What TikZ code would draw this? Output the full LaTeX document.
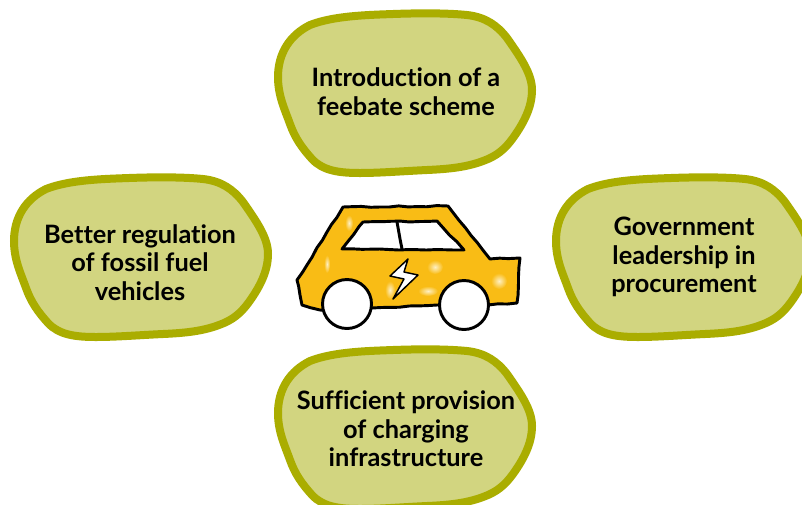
\documentclass[tikz,border=0pt]{standalone}
\usepackage{fontspec}
\usetikzlibrary{decorations.pathmorphing}
\setmainfont{Lato}[Ligatures=NoCommon]
\definecolor{blobfill}{HTML}{D2D580}
\definecolor{blobline}{HTML}{AAAD00}
\definecolor{caryellow}{HTML}{F9BC15}
\definecolor{carglow}{HTML}{FEF0C4}
\tikzset{every picture/.style={line width=0.75pt}}
\tikzset{
  blobline/.style={draw=blobline,fill=blobfill,line width=6pt},
  blobtext/.style={inner sep=0.75pt,align=center,font=\fontsize{19}{21.5}\selectfont\bfseries,text=black},
  carline/.style={draw=black,line width=2.2pt,line join=round,decorate,decoration={random steps,segment length=7pt,amplitude=0.45pt}},
  carspot/.style={inner color=carglow,outer color=caryellow},
  blob/.pic={
    \path[blobline] (-127,-11) .. controls (-127,-35) and (-115,-53) .. (-95,-63) .. controls (-72,-72) and (-40,-73) .. (-12,-74) .. controls (15,-75) and (42,-75) .. (62,-73) .. controls (80,-71) and (92,-63) .. (102,-50) .. controls (116,-30) and (127,-14) .. (127,2) .. controls (127,20) and (118,36) .. (108,50) .. controls (100,61) and (92,68) .. (78,73) .. controls (62,79) and (45,81) .. (22,82) .. controls (0,83) and (-25,85) .. (-45,85) .. controls (-65,85) and (-82,83) .. (-93,71) .. controls (-103,60) and (-110,50) .. (-115,36) .. controls (-120,22) and (-127,8) .. (-127,-11) -- cycle ;
  }
}

\begin{document}
\begin{tikzpicture}[x=0.75pt,y=0.75pt,yscale=-1,xscale=1]
\useasboundingbox (0,0) rectangle (802,504);
\clip (0,0) rectangle (802,504);

%Shape: Blobs
\pic[transform shape] at (405,88) {blob};
\pic[transform shape] at (141,252) {blob};
\pic[transform shape] at (683,252) {blob};
\pic[transform shape] at (405,424) {blob};

%Shape: Car body
\fill[caryellow] (343,207) -- (448,206) -- (490,259) -- (520,258) -- (517,303) -- (488,305) -- (437,305) -- (372,308) -- (320,310) -- (302,305) -- (297,280) -- cycle ;
%Shape: Car glow
\shade[carspot] (349,223) ellipse (4 and 8) ;
\shade[carspot] (327,264) ellipse (3 and 9) ;
\shade[carspot] (435,267) ellipse (8 and 7) ;
\shade[carspot] (499,281) ellipse (8 and 8) ;
\shade[carspot] (390,290) ellipse (5 and 9) ;
\shade[carspot] (428,291) ellipse (10 and 5) ;
\draw[carline] (343,207) -- (448,206) -- (490,259) -- (520,258) -- (517,303) -- (488,305) -- (437,305) -- (372,308) -- (320,310) -- (302,305) -- (297,280) -- cycle ;
%Shape: Windows
\draw[carline,fill=white] (363,222) -- (437,221) -- (464,250) -- (342,249) -- cycle ;
%Straight Lines
\draw[carline] (397,222) -- (402,249) ;
%Shape: Bolt
\draw[draw=black,line width=1.1pt,line join=round,fill=white] (408,259) -- (390,276) -- (404,279) -- (393,299) -- (418,275) -- (404,272) -- cycle ;
%Shape: Wheels
\draw[draw=black,line width=2.2pt,fill=white] (347,304) circle (24.5) ;
\draw[draw=black,line width=2.2pt,fill=white] (464,305) circle (24.5) ;

% Text Node
\node[blobtext] (feebate) at (406,92) {Introduction of a\\feebate scheme};
% Text Node
\node[blobtext] (regulation) at (140,262.5) {Better regulation\\of fossil fuel\\vehicles};
% Text Node
\node[blobtext] (procurement) at (684,257) {Government\\leadership in\\procurement};
% Text Node
\node[blobtext] (charging) at (406,429) {Sufficient provision\\of charging\\infrastructure};

\end{tikzpicture}
\end{document}
